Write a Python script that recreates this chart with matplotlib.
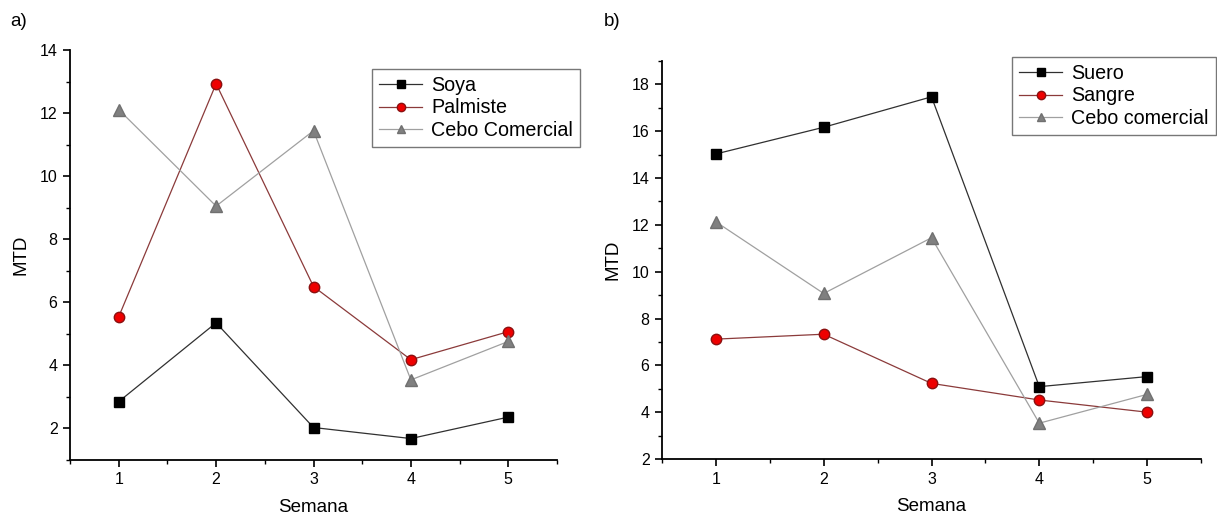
import matplotlib.pyplot as plt
from matplotlib.ticker import MultipleLocator

plt.rcParams["font.family"] = ["Liberation Sans", "DejaVu Sans"]

semana = [1, 2, 3, 4, 5]

# panel a
soya = [2.85, 5.35, 2.03, 1.68, 2.36]
palmiste = [5.54, 12.93, 6.50, 4.18, 5.07]
cebo_a = [12.11, 9.05, 11.44, 3.54, 4.76]

# panel b
suero = [15.03, 16.17, 17.47, 5.09, 5.52]
sangre = [7.12, 7.33, 5.23, 4.52, 4.00]
cebo_b = [12.13, 9.07, 11.45, 3.53, 4.76]

fig = plt.figure(figsize=(12.17, 5.17), dpi=100)
W, H = 1217, 517
ax1 = fig.add_axes([70 / W, 1 - 460 / H, (557 - 70) / W, (460 - 50) / H])
ax2 = fig.add_axes([662 / W, 1 - 459 / H, (1201 - 662) / W, (459 - 61) / H])


def style(ax, ylim, major):
    ax.set_xlim(0.5, 5.5)
    ax.set_ylim(*ylim)
    ax.xaxis.set_major_locator(MultipleLocator(1))
    ax.xaxis.set_minor_locator(MultipleLocator(0.5))
    ax.yaxis.set_major_locator(MultipleLocator(major))
    ax.yaxis.set_minor_locator(MultipleLocator(major / 2))
    for s in ["top", "right"]:
        ax.spines[s].set_visible(False)
    for s in ["left", "bottom"]:
        ax.spines[s].set_linewidth(1.3)
    ax.tick_params(which="major", direction="out", length=5, width=1.2, labelsize=11.5, pad=4)
    ax.tick_params(which="minor", direction="out", length=3, width=1.0)
    ax.set_xlabel("Semana", fontsize=13.5, labelpad=8)
    ax.set_ylabel("MTD", fontsize=13.5, labelpad=7)


def series(ax, y1, y2, y3, labels):
    ax.plot(semana, y1, marker="s", color="#303030", mfc="black", mec="black",
            ms=6.5, lw=0.9, label=labels[0])
    ax.plot(semana, y2, marker="o", color="#8b3a3a", mfc="#ee0000", mec="#8b1010",
            ms=7.5, lw=0.9, label=labels[1])
    ax.plot(semana, y3, marker="^", color="#a0a0a0", mfc="#808080", mec="#707070",
            ms=8, lw=0.9, label=labels[2])


series(ax1, soya, palmiste, cebo_a, ["Soya", "Palmiste", "Cebo Comercial"])
series(ax2, suero, sangre, cebo_b, ["Suero", "Sangre", "Cebo comercial"])

style(ax1, (1, 14), 2)
style(ax2, (2, 19), 2)

for ax, anchor in [(ax1, (372 / W, 1 - 69 / H)), (ax2, (1012 / W, 1 - 57 / H))]:
    leg = ax.legend(loc="upper left", bbox_to_anchor=anchor, bbox_transform=fig.transFigure,
                    fontsize=14.2, frameon=True, fancybox=False, handlelength=2.2,
                    borderpad=0.35, labelspacing=0.18, handletextpad=0.45, borderaxespad=0,
                    markerscale=0.8)
    leg.get_frame().set_edgecolor("#555555")
    leg.get_frame().set_linewidth(1.0)

fig.text(10 / W, 1 - 22 / H, "a)", fontsize=13.5, va="center")
fig.text(604 / W, 1 - 22 / H, "b)", fontsize=13.5, va="center")

fig.savefig("out.png", dpi=100)
